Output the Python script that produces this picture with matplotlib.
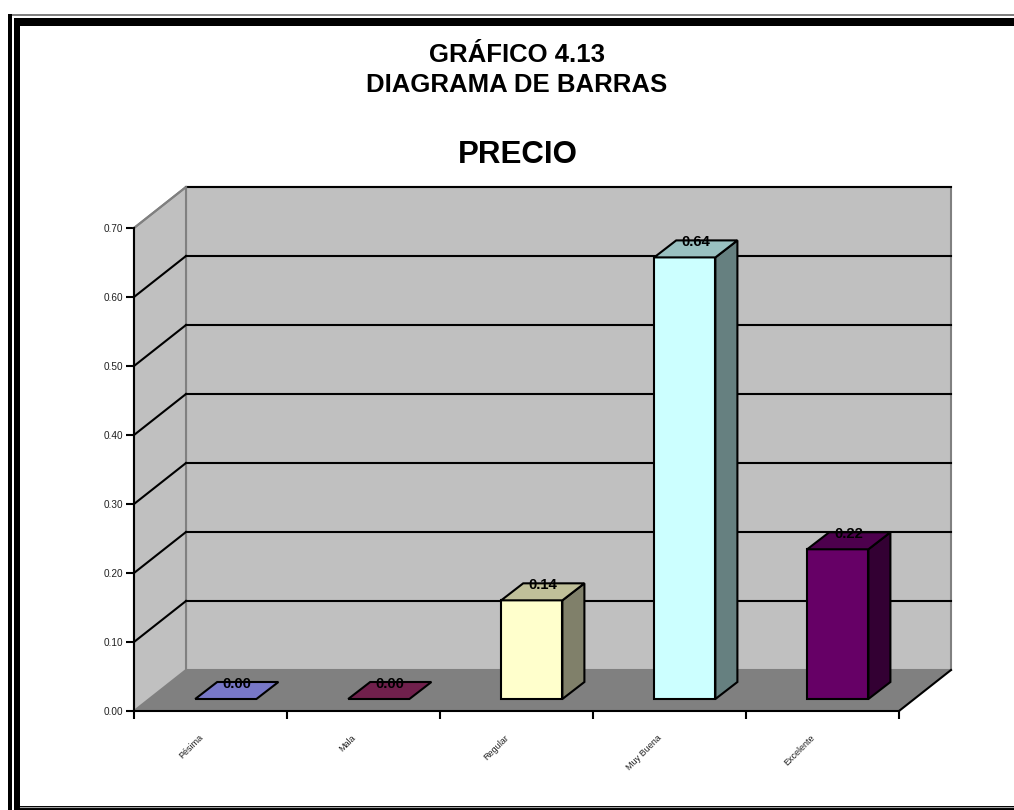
import matplotlib
matplotlib.use('Agg')
import matplotlib.pyplot as plt
from matplotlib.patches import Polygon, Rectangle

plt.rcParams['font.family'] = ['Liberation Sans', 'DejaVu Sans']

categorias = ['Pésima', 'Mala', 'Regular', 'Muy Buena', 'Excelente']
valores = [0.0, 0.0, 0.143, 0.64, 0.217]
y_ticks = [0.0, 0.1, 0.2, 0.3, 0.4, 0.5, 0.6, 0.7]

# (frente, tapa, lateral)
colores = [
    ('#7878c8', '#7878c8', '#7878c8'),
    ('#70204c', '#70204c', '#70204c'),
    ('#ffffcc', '#c0c09a', '#80806a'),
    ('#ccffff', '#99c0c0', '#668080'),
    ('#660066', '#4d004d', '#330033'),
]

W, H = 1014, 810
fig = plt.figure(figsize=(W / 100, H / 100), dpi=100)


def px_axes(x0, y0, x1, y1):
    # ejes definidos en pixeles desde la esquina superior izquierda
    return fig.add_axes([x0 / W, 1 - y1 / H, (x1 - x0) / W, (y1 - y0) / H])


# marco
bg = px_axes(0, 0, W, H)
bg.set_xlim(0, W)
bg.set_ylim(H, 0)
bg.axis('off')
bg.add_patch(Rectangle((8, 14), W, H, fc='black', ec='none'))
bg.add_patch(Rectangle((12, 14), W, H, fc='#808080', ec='none'))
bg.add_patch(Rectangle((12, 15.5), W, H, fc='white', ec='none'))
bg.add_patch(Rectangle((14, 18), W, H, fc='black', ec='none'))
bg.add_patch(Rectangle((20, 26), W, 780, fc='white', ec='none'))
bg.plot([20, W], [806.5, 806.5], color='#a0a0a0', lw=0.8)

fig.text(517 / W, 1 - 62.5 / H, 'GRÁFICO 4.13', ha='center', va='baseline',
         fontsize=18.5, fontweight='bold')
fig.text(517 / W, 1 - 91.5 / H, 'DIAGRAMA DE BARRAS', ha='center', va='baseline',
         fontsize=18.5, fontweight='bold')
fig.text(518 / W, 1 - 163 / H, 'PRECIO', ha='center', va='baseline',
         fontsize=22.5, fontweight='bold')

# grafico
ax = px_axes(134, 228, 899, 711)
ax.set_xlim(0, len(categorias))
ax.set_ylim(0, 0.7)
ax.patch.set_visible(False)

# profundidad en unidades de datos
wall_dx = 52 / 153
wall_dy = 41 / 690
bar_dx = 22 / 153
bar_dy = 17 / 690
bar_off = 12 / 690
n = len(categorias)
top = y_ticks[-1]

# piso y paredes
ax.add_patch(Polygon([(0, 0), (n, 0), (n + wall_dx, wall_dy), (wall_dx, wall_dy)],
                     fc='#808080', ec='none', clip_on=False, zorder=1))
ax.add_patch(Rectangle((wall_dx, wall_dy), n, top, fc='#c0c0c0', ec='#808080',
                       lw=1.5, clip_on=False, zorder=1))
ax.add_patch(Polygon([(0, 0), (wall_dx, wall_dy), (wall_dx, top + wall_dy), (0, top)],
                     fc='#c0c0c0', ec='#808080', lw=1.5, clip_on=False, zorder=1))
ax.plot([n, n + wall_dx], [0, wall_dy], color='black', lw=1.5, clip_on=False, zorder=2)

# lineas de division
for v in y_ticks[1:-1]:
    ax.plot([0, wall_dx], [v, v + wall_dy], color='black', lw=1.5,
            clip_on=False, zorder=2)
    ax.plot([wall_dx, n + wall_dx], [v + wall_dy, v + wall_dy], color='black',
            lw=1.5, clip_on=False, zorder=2)
ax.plot([wall_dx, n + wall_dx], [top + wall_dy, top + wall_dy], color='black',
        lw=1.5, clip_on=False, zorder=2)
ax.plot([0, wall_dx], [top, top + wall_dy], color='#808080', lw=1.5,
        clip_on=False, zorder=2)

# barras
for i, (v, (c_front, c_top, c_side)) in enumerate(zip(valores, colores)):
    x0 = i + 0.4
    x1 = i + 0.8
    y0 = bar_off
    y1 = bar_off + v
    kw = dict(ec='black', lw=1.5, clip_on=False, zorder=3, joinstyle='miter')
    if v > 0:
        ax.add_patch(Polygon([(x0, y0), (x1, y0), (x1, y1), (x0, y1)], fc=c_front, **kw))
        ax.add_patch(Polygon([(x1, y0), (x1 + bar_dx, y0 + bar_dy),
                              (x1 + bar_dx, y1 + bar_dy), (x1, y1)], fc=c_side, **kw))
    ax.add_patch(Polygon([(x0, y1), (x1, y1), (x1 + bar_dx, y1 + bar_dy),
                          (x0 + bar_dx, y1 + bar_dy)], fc=c_top, **kw))
    ax.text((x0 + x1 + bar_dx) / 2, y1 + bar_dy - 2 / 690, f'{v:.2f}', ha='center', va='center',
            fontsize=10.7, fontweight='bold', color='black', zorder=4, clip_on=False)

# ejes
for s in ['top', 'right']:
    ax.spines[s].set_visible(False)
for s in ['left', 'bottom']:
    ax.spines[s].set_linewidth(1.5)
    ax.spines[s].set_zorder(5)
ax.set_yticks(y_ticks)
ax.set_yticklabels([f'{v:.2f}' for v in y_ticks], fontsize=7.2, color='#202020')
ax.tick_params(axis='y', length=6, width=1.5, pad=2)
ax.set_xticks(range(n + 1))
ax.set_xticklabels([])
ax.tick_params(axis='x', length=6, width=1.5)
ax.set_xticks([i + 0.42 for i in range(n)], minor=True)
ax.set_xticklabels(categorias, minor=True, rotation=45, ha='right',
                   rotation_mode='anchor', fontsize=6.5, color='#202020')
ax.tick_params(axis='x', which='minor', length=0, pad=16)

fig.savefig('out.png', dpi=100)
